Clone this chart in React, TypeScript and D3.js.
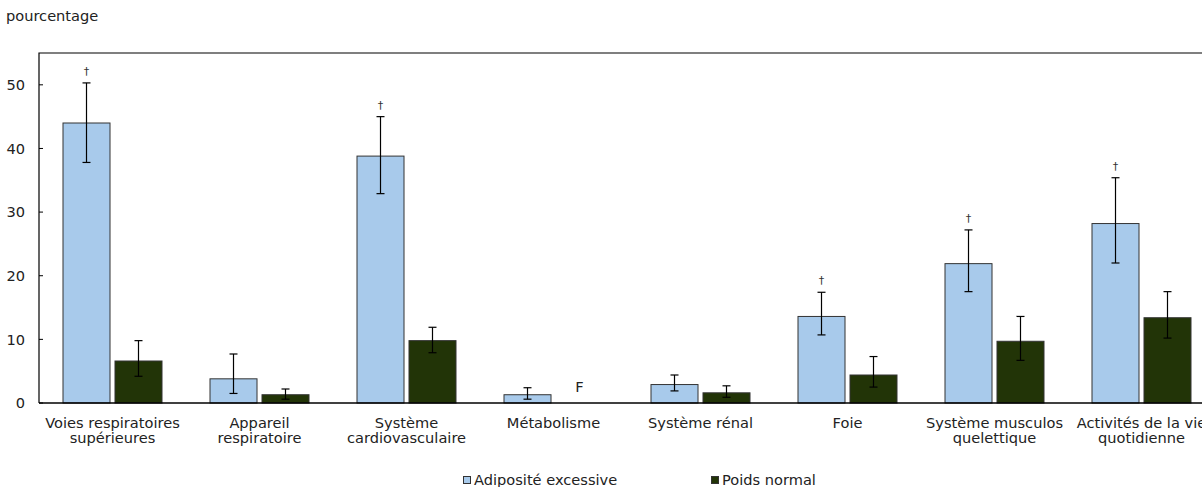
import React, { useRef, useEffect } from 'react';
import * as d3 from 'd3';

const categories = [
  ['Voies respiratoires', 'supérieures'],
  ['Appareil', 'respiratoire'],
  ['Système', 'cardiovasculaire'],
  ['Métabolisme'],
  ['Système rénal'],
  ['Foie'],
  ['Système musculos', 'quelettique'],
  ['Activités de la vie', 'quotidienne'],
];

const seriesNames = ['Adiposité excessive', 'Poids normal'];
const seriesColors = ['#A8CAEB', '#223407'];

// values (null = F, too unreliable to publish)
const adiposite = [44.0, 3.8, 38.8, 1.3, 2.9, 13.6, 21.9, 28.2];
const adipositeLow = [37.8, 1.5, 32.9, 0.6, 1.9, 10.7, 17.5, 22.0];
const adipositeHigh = [50.3, 7.7, 45.0, 2.4, 4.4, 17.4, 27.2, 35.4];
const adipositeDagger = [true, false, true, false, false, true, true, true];

const normal: (number | null)[] = [6.6, 1.3, 9.8, null, 1.6, 4.4, 9.7, 13.4];
const normalLow = [4.2, 0.6, 7.9, null, 0.9, 2.5, 6.7, 10.2];
const normalHigh = [9.8, 2.2, 11.9, null, 2.7, 7.3, 13.6, 17.5];

const yTicks = [0, 10, 20, 30, 40, 50];

export default function App() {
  const svgRef = useRef<SVGSVGElement | null>(null);

  useEffect(() => {
    if (!svgRef.current) return;
    const svg = d3.select(svgRef.current);
    svg.selectAll('*').remove();

    const width = 1202;
    const height = 487;
    const margin = { top: 53, left: 39, bottom: 403 };
    const step = 147;
    const font = '"DejaVu Sans", Verdana, sans-serif';
    const fs = 14.6;
    const textColor = '#222';

    const keys = categories.map((_, i) => String(i));
    const x0 = d3
      .scaleBand()
      .domain(keys)
      .range([margin.left, margin.left + step * keys.length]);
    const x1 = d3
      .scaleBand()
      .domain(['0', '1'])
      .range([24, 123])
      .paddingInner(0.096);
    const y = d3.scaleLinear().domain([0, 55]).range([margin.bottom, margin.top]);

    // y axis title
    svg
      .append('text')
      .attr('x', 6)
      .attr('y', 21)
      .attr('font-family', font)
      .attr('font-size', fs)
      .attr('fill', textColor)
      .text('pourcentage');

    // y ticks + labels
    const yAxis = svg.append('g');
    yTicks.forEach(t => {
      yAxis
        .append('line')
        .attr('x1', margin.left)
        .attr('x2', margin.left + 4)
        .attr('y1', y(t))
        .attr('y2', y(t))
        .attr('stroke', '#000');
      yAxis
        .append('text')
        .attr('x', 25)
        .attr('y', y(t))
        .attr('dy', '0.37em')
        .attr('text-anchor', 'end')
        .attr('font-family', font)
        .attr('font-size', fs)
        .attr('fill', textColor)
        .text(t);
    });

    const data = [
      { vals: adiposite, lo: adipositeLow, hi: adipositeHigh },
      { vals: normal, lo: normalLow, hi: normalHigh },
    ];

    data.forEach((s, si) => {
      const g = svg.append('g');
      s.vals.forEach((v, i) => {
        const bx = (x0(String(i)) as number) + (x1(String(si)) as number);
        const bw = x1.bandwidth();
        const cx = bx + bw / 2;
        if (v === null) {
          g.append('text')
            .attr('x', cx)
            .attr('y', y(0) - 11)
            .attr('text-anchor', 'middle')
            .attr('font-family', font)
            .attr('font-size', fs)
            .attr('fill', textColor)
            .text('F');
          return;
        }
        g.append('rect')
          .attr('x', bx)
          .attr('y', y(v))
          .attr('width', bw)
          .attr('height', y(0) - y(v))
          .attr('fill', seriesColors[si])
          .attr('stroke', '#333')
          .attr('stroke-width', 1);

        const lo = s.lo[i] as number;
        const hi = s.hi[i] as number;
        g.append('line')
          .attr('x1', cx)
          .attr('x2', cx)
          .attr('y1', y(lo))
          .attr('y2', y(hi))
          .attr('stroke', '#000')
          .attr('stroke-width', 1.2);
        [lo, hi].forEach(e => {
          g.append('line')
            .attr('x1', cx - 4)
            .attr('x2', cx + 4)
            .attr('y1', y(e))
            .attr('y2', y(e))
            .attr('stroke', '#000')
            .attr('stroke-width', 1.2);
        });
        if (si === 0 && adipositeDagger[i]) {
          g.append('text')
            .attr('x', cx)
            .attr('y', y(hi) - 8)
            .attr('text-anchor', 'middle')
            .attr('font-family', font)
            .attr('font-size', 11)
            .attr('fill', '#333')
            .text('†');
        }
      });
    });

    // frame: top, left, bottom axis
    svg
      .append('path')
      .attr('d', `M${margin.left},${y(0)}V${margin.top}H${width + 20}`)
      .attr('fill', 'none')
      .attr('stroke', '#000')
      .attr('stroke-width', 1.2);
    svg
      .append('line')
      .attr('x1', margin.left)
      .attr('x2', width + 20)
      .attr('y1', y(0))
      .attr('y2', y(0))
      .attr('stroke', '#000')
      .attr('stroke-width', 1.5);

    // category labels
    categories.forEach((lines, i) => {
      const cx = (x0(String(i)) as number) + x0.bandwidth() / 2;
      const t = svg
        .append('text')
        .attr('text-anchor', 'middle')
        .attr('font-family', font)
        .attr('font-size', fs)
        .attr('fill', textColor);
      lines.forEach((l, li) => {
        t.append('tspan')
          .attr('x', cx)
          .attr('y', 428 + li * 15)
          .text(l);
      });
    });

    // legend
    const legendX = [463, 711];
    seriesNames.forEach((name, i) => {
      svg
        .append('rect')
        .attr('x', legendX[i] + 0.5)
        .attr('y', 476.5)
        .attr('width', 7)
        .attr('height', 7)
        .attr('fill', seriesColors[i])
        .attr('stroke', '#333');
      svg
        .append('text')
        .attr('x', legendX[i] + 11)
        .attr('y', 485)
        .attr('font-family', font)
        .attr('font-size', fs)
        .attr('fill', textColor)
        .text(name);
    });

    svg.attr('width', width).attr('height', height);
  }, []);

  return (
    <div style={{ position: 'absolute', left: 0, top: 0, width: 1202, height: 487, overflow: 'hidden' }}>
      <svg ref={svgRef} width={1202} height={487} style={{ display: 'block', background: '#fff' }}></svg>
    </div>
  );
}
